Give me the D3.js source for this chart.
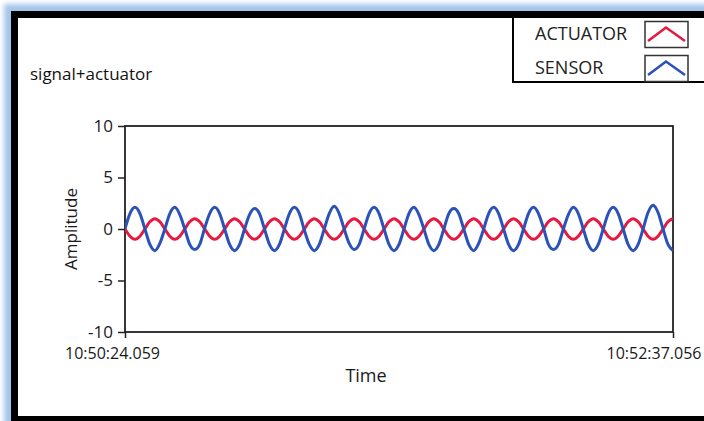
<!DOCTYPE html>
<html>
<head>
<meta charset="utf-8">
<script src="https://cdn.jsdelivr.net/npm/d3@7"></script>
<style>
  body { margin: 0; background: #fff; overflow: hidden; }
  svg { display: block; font-family: "Open Sans", sans-serif; }
</style>
</head>
<body>
<div id="chart"></div>
<script>
// waveform start / end (x axis tick labels) and sample spacing in seconds
const startTime = "10:50:24.059";
const endTime = "10:52:37.056";
const sampleStep = 1.209;

const yTicks = [-10, -5, 0, 5, 10];
const seriesNames = ["ACTUATOR", "SENSOR"];
const seriesColors = ["#e8193f", "#2b52b6"];

const actuator = [
  0, -0.7, -1.0, -0.7, 0, 0.7, 1.0, 0.7,
  0, -0.7, -1.0, -0.7, 0, 0.7, 1.0, 0.7,
  0, -0.7, -1.0, -0.7, 0, 0.7, 1.0, 0.7,
  0, -0.7, -1.0, -0.7, 0, 0.7, 1.0, 0.7,
  0, -0.7, -1.0, -0.7, 0, 0.7, 1.0, 0.7,
  0, -0.7, -1.0, -0.7, 0, 0.7, 1.0, 0.7,
  0, -0.7, -1.0, -0.7, 0, 0.7, 1.0, 0.7,
  0, -0.7, -1.0, -0.7, 0, 0.7, 1.0, 0.7,
  0, -0.7, -1.0, -0.7, 0, 0.7, 1.0, 0.7,
  0, -0.7, -1.0, -0.7, 0, 0.7, 1.0, 0.7,
  0, -0.7, -1.0, -0.7, 0, 0.7, 1.0, 0.7,
  0, -0.7, -1.0, -0.7, 0, 0.7, 1.0, 0.7,
  0, -0.7, -1.0, -0.7, 0, 0.7, 1.0, 0.7,
  0, -0.7, -1.0, -0.7, 0, 0.7, 1.0
];
const sensor = [
  0, 1.5, 2.1, 1.5, 0, -1.5, -2.1, -1.4,
  0, 1.5, 2.1, 1.4, 0, -1.5, -2.0, -1.5,
  0.1, 1.5, 2.1, 1.5, 0, -1.5, -2.1, -1.5,
  0, 1.4, 2.0, 1.5, 0, -1.5, -2.1, -1.5,
  0, 1.5, 2.1, 1.5, -0.1, -1.5, -2.1, -1.5,
  0, 1.5, 2.2, 1.5, 0, -1.4, -2.0, -1.5,
  0, 1.5, 2.1, 1.5, 0, -1.5, -2.1, -1.5,
  0, 1.5, 2.1, 1.4, 0, -1.5, -2.1, -1.5,
  0, 1.5, 2.0, 1.5, 0, -1.5, -2.1, -1.4,
  0, 1.5, 2.1, 1.5, 0, -1.5, -2.1, -1.5,
  0, 1.5, 2.1, 1.5, 0.1, -1.5, -2.0, -1.5,
  0, 1.4, 2.1, 1.5, 0, -1.5, -2.1, -1.5,
  0, 1.5, 2.1, 1.5, 0, -1.5, -2.1, -1.5,
  0, 1.6, 2.3, 1.6, 0, -1.5, -2.1
];
const series = [actuator, sensor];

const width = 704, height = 421;
const plot = {left: 125, top: 126, right: 673, bottom: 332};

const svg = d3.select('#chart').append('svg')
    .attr('width', width)
    .attr('height', height);

// window frame: soft blue glow + thick black border
const defs = svg.append('defs');
defs.append('filter').attr('id', 'glow')
    .attr('x', '-5%').attr('y', '-5%').attr('width', '110%').attr('height', '110%')
  .append('feGaussianBlur').attr('stdDeviation', 2.5);
defs.append('clipPath').attr('id', 'plotClip')
  .append('rect')
    .attr('x', plot.left).attr('y', plot.top)
    .attr('width', plot.right - plot.left).attr('height', plot.bottom - plot.top);

svg.append('rect')
    .attr('x', 4).attr('y', 4).attr('width', 740).attr('height', 440)
    .attr('fill', '#a4c4ea')
    .attr('filter', 'url(#glow)');
svg.append('rect')
    .attr('x', 14.5).attr('y', 14.5).attr('width', 720).attr('height', 405)
    .attr('fill', '#fff')
    .attr('stroke', '#000')
    .attr('stroke-width', 7);

// title
svg.append('text')
    .attr('x', 30).attr('y', 80)
    .style('font-size', '17px')
    .style('font-weight', 500)
    .attr('fill', '#111')
    .text('signal+actuator');

// scales
const parseTime = d3.timeParse("%H:%M:%S.%L");
const fmtTime = d3.timeFormat("%H:%M:%S.%L");
const t0 = parseTime(startTime), t1 = parseTime(endTime);

const x = d3.scaleTime().domain([t0, t1]).range([plot.left, plot.right]);
const y = d3.scaleLinear().domain([-10, 10]).range([plot.bottom, plot.top]);

// plot frame
svg.append('rect')
    .attr('x', plot.left).attr('y', plot.top)
    .attr('width', plot.right - plot.left).attr('height', plot.bottom - plot.top)
    .attr('fill', '#fff')
    .attr('stroke', '#222')
    .attr('stroke-width', 1.8);

// y axis (plain hyphen for negatives, like the original)
svg.append('g')
    .attr('transform', 'translate(' + plot.left + ',0)')
    .call(d3.axisLeft(y).tickValues(yTicks).tickFormat(d => String(d)).tickSize(7).tickPadding(5))
    .call(g => g.select('.domain').remove())
    .call(g => g.selectAll('line').attr('stroke', '#222').attr('stroke-width', 1.5))
    .call(g => g.selectAll('text')
        .attr('fill', '#1a1a1a')
        .style('font-size', '17px')
        .style('font-family', '"Open Sans", sans-serif'));

// x axis: only the two end stamps
const xAxisG = svg.append('g')
    .attr('transform', 'translate(0,' + plot.bottom + ')')
    .call(d3.axisBottom(x).tickValues([t0, t1]).tickFormat(fmtTime).tickSize(6).tickPadding(10))
    .call(g => g.select('.domain').remove())
    .call(g => g.selectAll('line').attr('stroke', '#222').attr('stroke-width', 1.5));
xAxisG.selectAll('text')
    .attr('fill', '#1a1a1a')
    .style('font-size', '16px')
    .style('font-family', '"Open Sans", sans-serif')
    .attr('text-anchor', (d, i) => i ? 'end' : 'middle')
    .attr('x', (d, i) => i ? width - plot.right - 3 : -13);

// axis titles
svg.append('text')
    .attr('transform', 'translate(77,229) rotate(-90)')
    .attr('text-anchor', 'middle')
    .style('font-size', '17px')
    .attr('fill', '#1a1a1a')
    .text('Amplitude');
svg.append('text')
    .attr('x', 366).attr('y', 382)
    .attr('text-anchor', 'middle')
    .style('font-size', '18px')
    .attr('fill', '#1a1a1a')
    .text('Time');

// waveforms
const line = d3.line()
    .curve(d3.curveMonotoneX)
    .x((d, i) => x(new Date(+t0 + i * sampleStep * 1000)))
    .y(d => y(d));

svg.append('g')
    .attr('clip-path', 'url(#plotClip)')
  .selectAll('path')
    .data(series)
  .enter()
    .append('path')
    .attr('d', line)
    .attr('fill', 'none')
    .attr('stroke', (d, i) => seriesColors[i])
    .attr('stroke-width', 3)
    .attr('stroke-linejoin', 'round');

// plot legend (top right)
const legend = svg.append('g');
legend.append('path')
    .attr('d', 'M513,18V82H' + (width + 10))
    .attr('fill', 'none')
    .attr('stroke', '#000')
    .attr('stroke-width', 2);

const legendItems = legend.selectAll('.legend-item')
    .data(seriesNames)
  .enter()
    .append('g')
    .attr('class', 'legend-item')
    .attr('transform', (d, i) => 'translate(0,' + (34 * i) + ')');

legendItems.append('text')
    .attr('x', 535).attr('y', 40)
    .style('font-size', '18px')
    .attr('fill', '#222')
    .text(d => d);
legendItems.append('rect')
    .attr('x', 645).attr('y', 21.5).attr('width', 43).attr('height', 26)
    .attr('fill', '#fff')
    .attr('stroke', '#333')
    .attr('stroke-width', 1.5);
legendItems.append('polyline')
    .attr('points', '648,41 666,27.5 685,41')
    .attr('fill', 'none')
    .attr('stroke', (d, i) => seriesColors[i])
    .attr('stroke-width', 2.6);
</script>
</body>
</html>
